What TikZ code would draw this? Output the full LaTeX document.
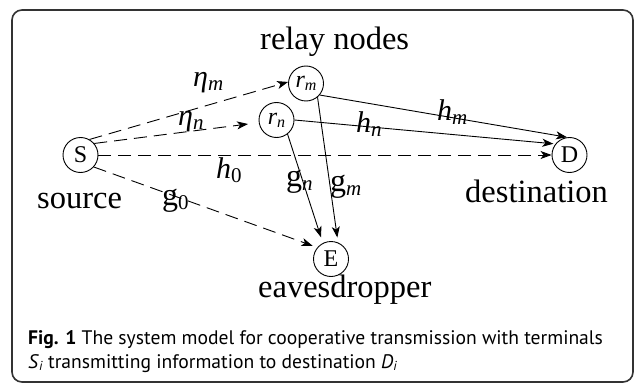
\documentclass[tikz,border=0pt]{standalone}
\usepackage{fontspec}
\setmainfont{Liberation Serif}
\newfontfamily\capfont{PT Sans}
\usetikzlibrary{arrows.meta,calc}
\newcommand\lbl[2]{\fontsize{30}{30}\selectfont\textit{#1}\raisebox{-4pt}{\fontsize{21}{21}\selectfont #2}}
\newcommand\lblg[1]{\fontsize{32}{32}\selectfont g\raisebox{-4pt}{\fontsize{21}{21}\selectfont #1}}
\begin{document}
\begin{tikzpicture}[x=1pt,y=-1pt,
  nd/.style={draw,circle,minimum size=35pt,inner sep=0pt,line width=0.9pt,font=\fontsize{24}{24}\selectfont},
  bigtext/.style={anchor=base west,inner sep=0pt,font=\fontsize{32.5}{34}\selectfont},
  lb/.style={anchor=base west,inner sep=0pt},
  arrowtip/.style={-{Stealth[length=11pt,width=8pt,inset=3pt]}},
  dsh/.style={arrowtip,line width=0.9pt,dash pattern=on 13pt off 7pt},
  sld/.style={arrowtip,line width=0.9pt},
  frm/.style={draw=black!80,line width=1.6pt,rounded corners=10pt},
  captext/.style={anchor=base west,inner sep=0pt,font=\capfont\fontsize{19.6}{22}\selectfont}]
\useasboundingbox (0,0) rectangle (636,385);
\fill[white] (0,0) rectangle (636,385);
\draw[frm] (12,10) rectangle (633,382);

\node[nd] (S) at (80.5,155) {S};
\node[nd] (rm) at (306,83.5) {\textit{r}\raisebox{-3pt}{\fontsize{16}{16}\selectfont\textit{m}}};
\node[nd] (rn) at (276.5,120) {\textit{r}\raisebox{-3pt}{\fontsize{16}{16}\selectfont\textit{n}}};
\node[nd] (D) at (569.5,155) {D};
\node[nd] (E) at (331,259) {E};
\coordinate (rnin) at (248,124);

\draw[dsh] (S.60) -- (rm.175);
\draw[dsh] (S.40) -- (rnin);
\draw[dsh] (S.east) -- (D.west);
\draw[dsh,shorten >=5pt] (S.-42) -- (E.140);
\draw[sld] (rm.-40) -- (D.98);
\draw[sld,shorten >=2pt] (rn.east) -- (D.142);
\draw[sld,shorten >=6pt] (rn.-52) -- (E.117);
\draw[sld,shorten >=5pt] (rm.-50) -- (E.67);

\node[bigtext] (relay) at (260,50) {relay nodes};
\node[bigtext] (src) at (37,208) {source};
\node[bigtext] (dst) at (465,202) {destination};
\node[bigtext] (eve) at (258,297) {eavesdropper};

\node[lb] (etam) at (193,87) {\lbl{η}{\textit{m}}};
\node[lb] (etan) at (178,125) {\lbl{η}{\textit{n}}};
\node[lb] (h0) at (216,178) {\lbl{h}{0}};
\node[lb] (gn) at (286,186) {\lblg{\textit{n}}};
\node[lb] (gm) at (330,191) {\lblg{\textit{m}}};
\node[lb] (hm) at (437,120) {\lbl{h}{\textit{m}}};
\node[lb] (hn) at (356,132) {\lbl{h}{\textit{n}}};
\node[lb] (g0) at (162,205) {\lblg{0}};

\node[captext] (cap1) at (28,344) {\textbf{Fig. 1} The system model for cooperative transmission with terminals};
\node[captext] (cap2) at (28,368) {\textit{S}\raisebox{-2pt}{\fontsize{13}{13}\selectfont\textit{i}} transmitting information to destination \textit{D}\raisebox{-2pt}{\fontsize{13}{13}\selectfont\textit{i}}};
\end{tikzpicture}
\end{document}
